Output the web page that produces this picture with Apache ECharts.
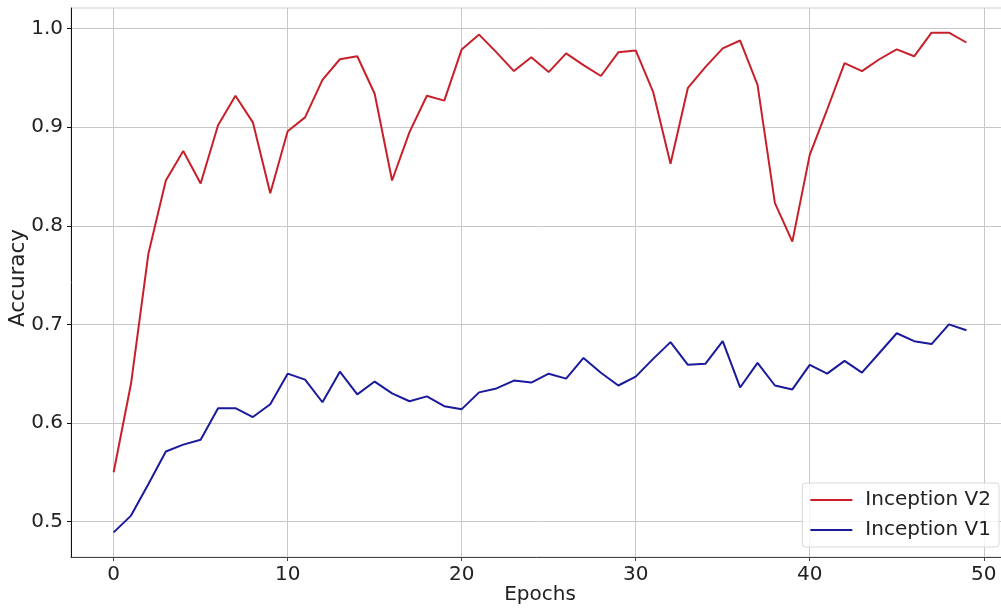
<!DOCTYPE html>
<html>
<head>
<meta charset="utf-8">
<script src="https://cdn.jsdelivr.net/npm/echarts@6/dist/echarts.min.js"></script>
<style>
html,body{margin:0;padding:0;background:#fff;}
#chart{width:1001px;height:608px;}
</style>
</head>
<body>
<div id="chart"></div>
<script>
const epochs = Array.from({length: 50}, (_, i) => i);
const inceptionV2 = [0.550, 0.640, 0.772, 0.846, 0.876, 0.843, 0.902, 0.932, 0.905, 0.833,
  0.896, 0.910, 0.948, 0.969, 0.972, 0.934, 0.846, 0.895, 0.932, 0.927,
  0.979, 0.994, 0.976, 0.957, 0.971, 0.956, 0.975, 0.963, 0.952, 0.976,
  0.978, 0.936, 0.863, 0.940, 0.961, 0.980, 0.988, 0.943, 0.823, 0.784,
  0.872, 0.918, 0.965, 0.957, 0.969, 0.979, 0.972, 0.996, 0.996, 0.986];
const inceptionV1 = [0.489, 0.506, 0.538, 0.571, 0.578, 0.583, 0.615, 0.615, 0.606, 0.619,
  0.650, 0.644, 0.621, 0.652, 0.629, 0.642, 0.630, 0.622, 0.627, 0.617,
  0.614, 0.631, 0.635, 0.643, 0.641, 0.650, 0.645, 0.666, 0.651, 0.638,
  0.647, 0.665, 0.682, 0.659, 0.660, 0.683, 0.636, 0.661, 0.638, 0.634,
  0.659, 0.650, 0.663, 0.651, 0.671, 0.691, 0.683, 0.680, 0.700, 0.694];
const xTicks = [0, 10, 20, 30, 40, 50];
const yTicks = [0.5, 0.6, 0.7, 0.8, 0.9, 1.0];
const seriesNames = ['Inception V2', 'Inception V1'];

const FONT = 'DejaVu Sans';
const chart = echarts.init(document.getElementById('chart'), null, {renderer: 'canvas'});
chart.setOption({
  backgroundColor: '#fff',
  animation: false,
  grid: {left: 71, right: -8, top: 8, bottom: 51, outerBoundsMode: 'none', containLabel: false,
    show: true, borderColor: '#d0d0d0', borderWidth: 1},
  legend: {
    data: seriesNames,
    orient: 'vertical',
    right: 2, bottom: 61,
    icon: 'rect',
    itemWidth: 42, itemHeight: 2, itemGap: 10,
    padding: [7, 8, 7, 8],
    borderColor: '#d8d8d8', borderWidth: 1, borderRadius: 3,
    backgroundColor: 'rgba(255,255,255,0.8)',
    textStyle: {fontFamily: FONT, fontSize: 20, color: '#222', padding: [0, 0, 0, 8]}
  },
  xAxis: {
    type: 'value', min: -2.45, max: 51.45,
    name: 'Epochs', nameLocation: 'middle', nameGap: 28, nameMoveOverlap: false,
    nameTextStyle: {fontFamily: FONT, fontSize: 20, color: '#222'},
    axisLine: {show: true, onZero: false, lineStyle: {color: '#444', width: 1}},
    axisTick: {show: true, length: 4, customValues: xTicks, lineStyle: {color: '#444'}},
    axisLabel: {customValues: xTicks, margin: 8, fontFamily: FONT, fontSize: 20, color: '#222'},
    splitLine: {show: true, lineStyle: {color: '#c8c8c8', width: 1}}
  },
  yAxis: {
    type: 'value', min: 0.464, max: 1.021,
    name: 'Accuracy', nameLocation: 'middle', nameGap: 42, nameMoveOverlap: false,
    nameTextStyle: {fontFamily: FONT, fontSize: 21.5, color: '#222', padding: [0, 0, 0, 9]},
    axisLine: {show: true, onZero: false, lineStyle: {color: '#111', width: 1}},
    axisTick: {show: true, length: 4, customValues: yTicks, lineStyle: {color: '#111'}},
    axisLabel: {customValues: yTicks, margin: 8, fontFamily: FONT, fontSize: 20, color: '#222',
      formatter: v => v.toFixed(1)},
    splitLine: {show: true, lineStyle: {color: '#c8c8c8', width: 1}}
  },
  series: [
    {name: seriesNames[0], type: 'line', data: epochs.map((e, i) => [e, inceptionV2[i]]),
     symbol: 'none', lineStyle: {color: '#c8202a', width: 2}, itemStyle: {color: '#c8202a'}},
    {name: seriesNames[1], type: 'line', data: epochs.map((e, i) => [e, inceptionV1[i]]),
     symbol: 'none', lineStyle: {color: '#1a1a9c', width: 2}, itemStyle: {color: '#1a1a9c'}}
  ]
});
</script>
</body>
</html>
